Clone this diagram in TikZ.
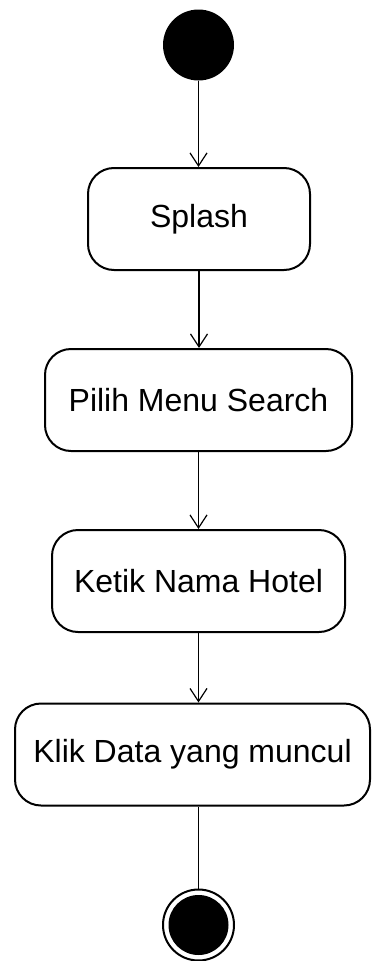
\documentclass[tikz,border=0pt]{standalone}
\usepackage{fontspec}
\setmainfont{Liberation Sans}
\usetikzlibrary{arrows.meta, positioning}

\begin{document}
\begin{tikzpicture}[x=1pt, y=-1pt,
  actbox/.style  = {draw=black, line width=2pt, rounded corners=26pt, minimum height=102pt, inner sep=0pt, align=center, font=\fontsize{32}{38}\selectfont},
  startdot/.style = {circle, fill=black, minimum size=71pt, inner sep=0pt},
  endring/.style = {circle, draw=black, line width=2pt, minimum size=71pt, inner sep=0pt},
  enddot/.style  = {circle, fill=black, minimum size=60pt, inner sep=0pt},
  arr/.style     = {-{Straight Barb[length=13pt,width=17pt]}, line width=1.2pt},
  plain/.style   = {line width=1.2pt},
]
\useasboundingbox (0,0) rectangle (372,961);
\node[startdot] (start) at (198.5, 45) {};
\node[actbox, minimum width=222pt] (splash) at (199, 219) {Splash};
\node[actbox, minimum width=307pt] (menu) at (198.5, 400) {Pilih Menu Search};
\node[actbox, minimum width=293pt] (ketik) at (198.5, 581) {Ketik Nama Hotel};
\node[actbox, minimum width=355pt] (klik) at (192.5, 754.5) {Klik Data yang muncul};
\node[endring] (finish) at (198.5, 925) {};
\node[enddot] (finishdot) at (finish) {};
\draw[arr] (start.south) -- (start.south |- splash.north);
\draw[arr] (splash.south) -- (splash.south |- menu.north);
\draw[arr] (menu.south) -- (menu.south |- ketik.north);
\draw[arr] (ketik.south) -- (ketik.south |- klik.north);
\draw[plain] (ketik.south |- klik.south) -- (finish.north);
\end{tikzpicture}
\end{document}
